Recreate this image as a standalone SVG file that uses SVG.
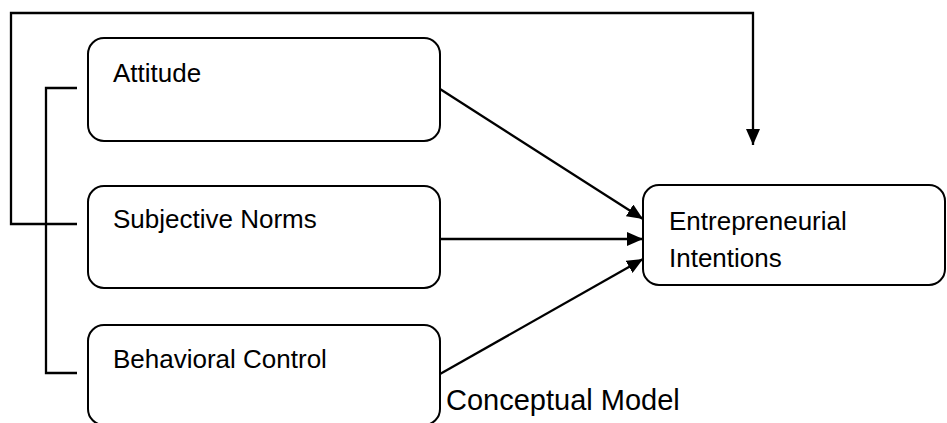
<svg xmlns="http://www.w3.org/2000/svg" width="947" height="423" viewBox="0 0 947 423">
<style>
.box{fill:#fff;stroke:#000;stroke-width:2}
.ln{fill:none;stroke:#000;stroke-width:2.3}
.t{font-family:"Liberation Sans","Open Sans",Arial,sans-serif;font-size:26px;fill:#000}
</style>
<defs>
<marker id="ah" viewBox="0 0 16 14" refX="16" refY="7" markerWidth="16" markerHeight="14" markerUnits="userSpaceOnUse" orient="auto">
<path d="M0,0 L16,7 L0,14 Z" fill="#000"/>
</marker>
</defs>
<rect width="947" height="423" fill="#fff"/>
<g id="connectors">
<path class="ln" d="M77,224 H11 V13 H753 V145" marker-end="url(#ah)"/>
<path class="ln" d="M77,88 H46 V373 H77"/>
<line class="ln" x1="440" y1="89" x2="643" y2="219" marker-end="url(#ah)"/>
<line class="ln" x1="440" y1="239" x2="643" y2="239" marker-end="url(#ah)"/>
<line class="ln" x1="440" y1="374" x2="643" y2="259" marker-end="url(#ah)"/>
</g>
<g id="attitude">
<rect class="box" x="88" y="38" width="352" height="103" rx="16"/>
<text class="t" x="113" y="82">Attitude</text>
</g>
<g id="subjective-norms">
<rect class="box" x="88" y="186" width="352" height="102" rx="16"/>
<text class="t" x="113" y="228">Subjective Norms</text>
</g>
<g id="behavioral-control">
<rect class="box" x="88" y="325" width="352" height="100" rx="16"/>
<text class="t" x="113" y="368">Behavioral Control</text>
</g>
<g id="entrepreneurial-intentions">
<rect class="box" x="643" y="185" width="302" height="100" rx="16"/>
<text class="t" x="669" y="230">Entrepreneurial</text>
<text class="t" x="669" y="267">Intentions</text>
</g>
<g id="caption">
<text class="t" x="446" y="410" style="font-size:29px">Conceptual Model</text>
</g>
</svg>
